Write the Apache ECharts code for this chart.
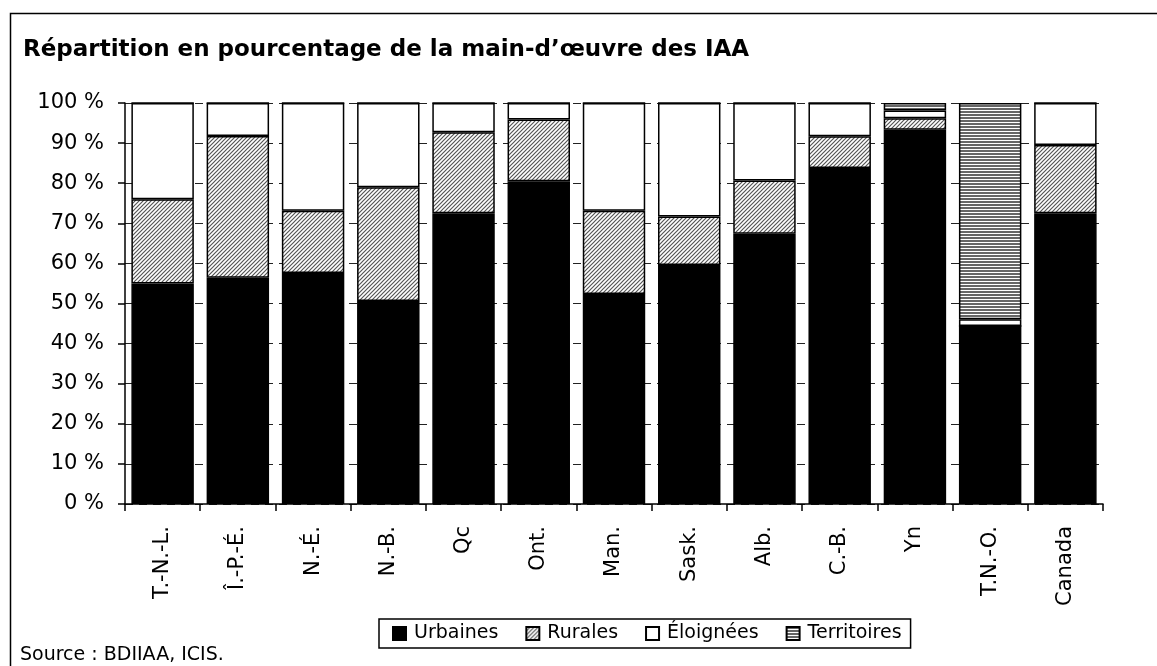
<!DOCTYPE html>
<html>
<head>
<meta charset="utf-8">
<script src="https://cdn.jsdelivr.net/npm/echarts@6/dist/echarts.min.js"></script>
<style>
  html, body { margin: 0; padding: 0; background: #fff; }
  #chart { width: 1157px; height: 666px; }
</style>
</head>
<body>
<div id="chart"></div>
<script>
// catégories (provinces / territoires)
var regions = ['T.-N.-L.', 'Î.-P.-É.', 'N.-É.', 'N.-B.', 'Qc', 'Ont.', 'Man.', 'Sask.', 'Alb.', 'C.-B.', 'Yn', 'T.N.-O.', 'Canada'];
// pourcentages par type de collectivité
var urbaines    = [55.0, 56.4, 57.6, 50.6, 72.5, 80.5, 52.4, 59.6, 67.4, 83.8, 93.3, 44.4, 72.5];
var rurales     = [21.0, 35.4, 15.5, 28.4, 20.2, 15.4, 20.7, 12.1, 13.3,  7.9,  2.9,  0.0, 17.0];
var eloignees   = [24.0,  8.2, 26.9, 21.0,  7.3,  4.1, 26.9, 28.3, 19.3,  8.3,  1.9,  1.7, 10.5];
var territoires = [ 0.0,  0.0,  0.0,  0.0,  0.0,  0.0,  0.0,  0.0,  0.0,  0.0,  1.9, 53.9,  0.0];
var yTicks = [0, 10, 20, 30, 40, 50, 60, 70, 80, 90, 100];

var FONT = '"DejaVu Sans", "Liberation Sans", Arial, sans-serif';

// motif hachuré (Rurales)
function hatchPattern() {
  var c = document.createElement('canvas');
  c.width = 4; c.height = 4;
  var g = c.getContext('2d');
  g.fillStyle = '#fff';
  g.fillRect(0, 0, 4, 4);
  g.strokeStyle = '#555';
  g.lineWidth = 1.2;
  g.beginPath();
  g.moveTo(0, 4); g.lineTo(4, 0);
  g.moveTo(-1, 1); g.lineTo(1, -1);
  g.moveTo(3, 5); g.lineTo(5, 3);
  g.stroke();
  return { image: c, repeat: 'repeat' };
}

// motif rayé horizontal (Territoires)
function stripePattern() {
  var c = document.createElement('canvas');
  c.width = 4; c.height = 3;
  var g = c.getContext('2d');
  g.fillStyle = '#fff';
  g.fillRect(0, 0, 4, 3);
  g.fillStyle = '#666';
  g.fillRect(0, 0, 4, 2);
  return { image: c, repeat: 'repeat' };
}

var myChart = echarts.init(document.getElementById('chart'));

function barSeries(name, data, color) {
  return {
    name: name,
    type: 'bar',
    stack: 'total',
    barCategoryGap: '17%',
    data: data,
    itemStyle: { color: color, borderColor: '#000', borderWidth: 1.5 },
    emphasis: { disabled: true }
  };
}

var option = {
  animation: false,
  textStyle: { fontFamily: FONT, color: '#000' },
  title: {
    text: 'Répartition en pourcentage de la main-d’œuvre des IAA',
    left: 18, top: 34,
    textStyle: { fontFamily: FONT, fontSize: 23, fontWeight: 'bold', color: '#000' }
  },
  graphic: [
    { type: 'rect', left: 8, top: 11, shape: { width: 1170, height: 700 },
      style: { fill: 'none', stroke: '#000', lineWidth: 1.5 }, silent: true },
    { type: 'text', left: 20, top: 646,
      style: { text: 'Source : BDIIAA, ICIS.', font: '19px ' + FONT, fill: '#000' } }
  ],
  legend: {
    bottom: 18, left: 379,
    itemWidth: 13, itemHeight: 13, itemGap: 27,
    padding: [5, 9, 5, 13],
    borderColor: '#000', borderWidth: 1.5,
    textStyle: { fontFamily: FONT, fontSize: 19, color: '#000', padding: [0, 0, 0, 3] },
    icon: 'rect',
    data: ['Urbaines', 'Rurales', 'Éloignées', 'Territoires']
  },
  grid: { left: 125, right: 54, top: 103, bottom: 162 },
  xAxis: {
    type: 'category',
    data: regions,
    axisLine: { lineStyle: { color: '#000', width: 1.5 } },
    axisTick: { show: true, length: 7, lineStyle: { color: '#000', width: 1.5 } },
    axisLabel: { rotate: 90, margin: 22, fontSize: 21, color: '#000', fontFamily: FONT }
  },
  yAxis: {
    type: 'value',
    min: 0, max: 100, interval: 10,
    axisLine: { show: true, lineStyle: { color: '#000', width: 1.5 } },
    axisTick: { show: true, length: 7, lineStyle: { color: '#000', width: 1.5 } },
    axisLabel: {
      fontSize: 21, color: '#000', fontFamily: FONT, margin: 21,
      formatter: function (v) { return yTicks.indexOf(v) >= 0 ? v + ' %' : ''; }
    },
    splitLine: { show: true, lineStyle: { color: '#222', width: 1, type: [8, 6] } }
  },
  series: [
    barSeries('Urbaines', urbaines, '#000'),
    barSeries('Rurales', rurales, hatchPattern()),
    barSeries('Éloignées', eloignees, '#fff'),
    barSeries('Territoires', territoires, stripePattern())
  ]
};
myChart.setOption(option);
</script>
</body>
</html>
